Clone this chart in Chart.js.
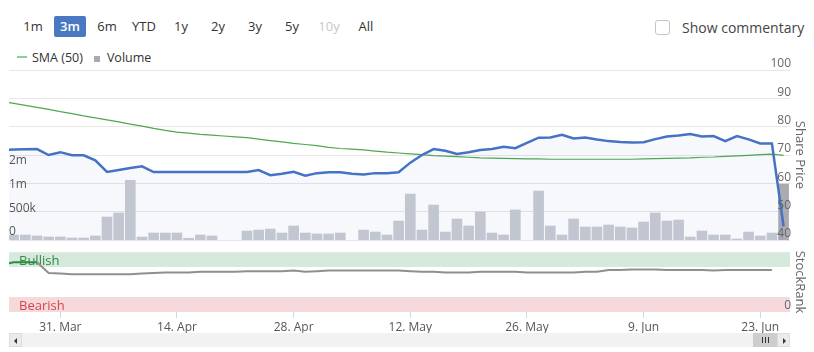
<!DOCTYPE html>
<html>
<head>
<meta charset="utf-8">
<script src="https://cdn.jsdelivr.net/npm/chart.js@4.4.1/dist/chart.umd.min.js"></script>
<style>
  body { margin: 0; background: #fff; font-family: "Open Sans", sans-serif; }
  #wrap { position: relative; width: 814px; height: 352px; overflow: hidden; }
  #ranges { position: absolute; left: 17px; top: 16px; display: flex; }
  .btn { width: 32px; height: 21px; line-height: 21px; margin-right: 5px; text-align: center;
         font-size: 13px; color: #333; border-radius: 2px; }
  .btn.sel { background: #4a78c2; color: #fff; font-weight: 600; }
  .btn.off { color: #c8c8c8; }
  #commentary { position: absolute; left: 655px; top: 19px; height: 17px; display: flex; align-items: center; }
  #commentary .box { width: 15px; height: 15px; border: 1px solid #c4c4c4; border-radius: 3px; box-sizing: border-box; }
  #commentary span { margin-left: 12px; font-size: 14px; color: #444; }
  #legend { position: absolute; left: 17px; top: 48px; height: 18px; display: flex; align-items: center; font-size: 12.5px; color: #333; }
  .lg-line { width: 10px; height: 1.5px; background: #8fce8f; margin-right: 5px; }
  .lg-box { width: 6px; height: 6px; background: #a9abb1; margin: 3px 7px 0 11px; }
  canvas { position: absolute; left: 0; }
  #main { top: 50px; }
  #rank { top: 232px; }
  #scroll { position: absolute; left: 9px; top: 333px; width: 781px; height: 14px; background: #f2f2f2; }
  .sbtn { position: absolute; top: 0; width: 13px; height: 14px; background: #ebebeb; border: 1px solid #dcdcdc; box-sizing: border-box; }
  .tri { position: absolute; top: 4px; width: 0; height: 0; border-top: 3px solid transparent; border-bottom: 3px solid transparent; }
  #handle { position: absolute; left: 744px; top: 0; width: 24px; height: 14px; background: #cdcdcd; }
  .grip { position: absolute; top: 4px; width: 1px; height: 6px; background: #333; }
</style>
</head>
<body>
<div id="wrap">
  <div id="ranges"></div>
  <div id="commentary"><div class="box"></div><span>Show commentary</span></div>
  <div id="legend"><div class="lg-line"></div><span>SMA (50)</span><div class="lg-box"></div><span>Volume</span></div>
  <canvas id="main" width="814" height="210"></canvas>
  <canvas id="rank" width="814" height="102"></canvas>
  <div id="scroll">
    <div class="sbtn" style="left:0"><div class="tri" style="left:4px;border-right:3px solid #333"></div></div>
    <div id="handle">
      <div class="grip" style="left:9px"></div><div class="grip" style="left:12px"></div><div class="grip" style="left:15px"></div>
    </div>
    <div class="sbtn" style="left:768px"><div class="tri" style="left:5px;border-left:3px solid #333"></div></div>
  </div>
</div>
<script>
// range selector
const rangeLabels = ['1m', '3m', '6m', 'YTD', '1y', '2y', '3y', '5y', '10y', 'All'];
const rangeSelected = '3m';
const rangeDisabled = ['10y'];

// x axis: trading day index, 0 = 24 Mar
const tickIdx = [5, 15, 25, 35, 45, 55, 65];
const tickLabels = ['31. Mar', '14. Apr', '28. Apr', '12. May', '26. May', '9. Jun', '23. Jun'];
const xMin = 0.6;
const xMax = 67.55;

// share price (close)
const price = [
  71.8, 71.9, 72.0, 72.1, 70.0, 71.0, 69.9, 69.9, 68.1, 64.0,
  64.7, 65.4, 66.0, 64.0, 64.0, 64.0, 64.0, 64.0, 64.0, 64.0,
  64.0, 64.0, 64.7, 62.9, 63.4, 64.1, 62.7, 63.6, 63.9, 63.9,
  63.4, 63.1, 63.6, 63.6, 63.9, 67.3, 70.0, 72.1, 71.5, 70.4,
  71.0, 71.8, 72.1, 72.9, 72.4, 74.3, 76.1, 76.2, 77.1, 75.8,
  76.2, 75.5, 74.9, 74.6, 74.4, 74.5, 75.6, 76.5, 76.9, 77.4,
  76.5, 76.7, 74.9, 76.7, 75.5, 74.1, 74.1, 44.8
];

// 50 day simple moving average
const sma = [
  88.9, 88.2, 87.5, 86.8, 86.1, 85.3, 84.6, 83.8, 83.1, 82.4,
  81.7, 80.9, 80.2, 79.4, 78.7, 78.1, 77.7, 77.3, 77.0, 76.7,
  76.4, 76.1, 75.6, 75.1, 74.6, 74.1, 73.7, 73.3, 72.7, 72.3,
  72.1, 71.8, 71.4, 71.0, 70.7, 70.4, 70.1, 69.8, 69.6, 69.4,
  69.2, 69.0, 68.9, 68.8, 68.7, 68.6, 68.6, 68.5, 68.5, 68.5,
  68.5, 68.5, 68.5, 68.5, 68.5, 68.6, 68.7, 68.8, 68.9, 69.0,
  69.2, 69.3, 69.5, 69.7, 69.9, 70.1, 70.3, 69.9
];

// volume, thousands of shares (null = market holiday)
const volume = [
  90, 105, 105, 84, 63, 63, 42, 42, 84, 481,
  565, 1250, 63, 146, 146, 146, 36, 105, 84, null,
  null, 188, 209, 230, 146, 293, 146, 126, 126, 146,
  null, 209, 167, 105, 397, 962, 209, 732, 167, 439,
  293, 586, 146, 105, 628, null, 1025, 293, 105, 439,
  272, 272, 314, 272, 251, 377, 565, 397, 418, 63,
  188, 105, 105, 21, 167, 84, 146, 1170
];
const volTicks = [0, 500000, 1000000, 1500000];

// StockRank
const stockRank = [
  79, 83, 83, 83, 65, 64, 63, 63, 63, 63,
  63, 63, 64, 65, 66, 66, 66, 67, 67, 67,
  67, 68, 68, 68, 68, 69, 67, 68, 69, 69,
  69, 69, 69, 69, 69, 68, 67, 67, 66, 66,
  66, 67, 67, 67, 67, 66, 66, 66, 66, 66,
  67, 67, 70, 70, 71, 71, 71, 70, 70, 70,
  70, 69, 70, 70, 70, 70, 70
];

const rankBands = [
  { from: 75, to: 100, label: 'Bullish', fill: '#d5e9dc', text: '#2e8a45' },
  { from: 0, to: 25, label: 'Bearish', fill: '#f5d9db', text: '#d9434e' }
];
const bullishLevel = 75;

// buttons
const ranges = document.getElementById('ranges');
rangeLabels.forEach(r => {
  const b = document.createElement('div');
  b.className = 'btn' + (r === rangeSelected ? ' sel' : '') + (rangeDisabled.includes(r) ? ' off' : '');
  b.textContent = r;
  ranges.appendChild(b);
});

Chart.defaults.font.family = '"Open Sans", sans-serif';
Chart.defaults.font.size = 12;

const toPoints = arr => arr.map((v, i) => ({ x: i, y: v }));

// highcharts-like rounding: 1.5m shows as 2m
function volLabel(v) {
  if (v === 0) return '0';
  if (v < 1e6) return Math.round(v / 1000) + 'k';
  return Math.round(v / 1e6) + 'm';
}

new Chart(document.getElementById('main'), {
  type: 'bar',
  data: {
    datasets: [
      {
        type: 'line',
        label: 'Share Price',
        data: toPoints(price),
        yAxisID: 'price',
        borderColor: '#4572c4',
        borderWidth: 2.5,
        pointRadius: 0,
        tension: 0,
        fill: 'start',
        backgroundColor: 'rgba(69, 114, 196, 0.05)',
        order: 0
      },
      {
        type: 'line',
        label: 'SMA (50)',
        data: toPoints(sma),
        yAxisID: 'price',
        borderColor: '#4fa84f',
        borderWidth: 1.2,
        pointRadius: 0,
        tension: 0,
        fill: false,
        order: 1
      },
      {
        type: 'bar',
        label: 'Volume',
        data: volume.map((v, i) => ({ x: i, y: v === null ? null : v * 1000 })),
        yAxisID: 'vol',
        backgroundColor: volume.map((v, i) => i === volume.length - 1 ? '#a9abb1' : '#c9cbd1'),
        barThickness: 10,
        order: 2
      }
    ]
  },
  options: {
    responsive: false,
    animation: false,
    events: [],
    layout: { padding: { top: 20, bottom: 20, left: 0, right: 0 } },
    plugins: { legend: { display: false }, tooltip: { enabled: false } },
    scales: {
      x: { type: 'linear', min: xMin, max: xMax, offset: false, display: false },
      price: {
        position: 'right',
        min: 40,
        max: 100,
        ticks: { stepSize: 10, mirror: true, padding: 1, labelOffset: -6, color: '#666', z: 1 },
        grid: { color: '#e6e6e6', drawTicks: false },
        border: { display: false },
        title: { display: true, text: 'Share Price', color: '#666', font: { size: 13 }, padding: { top: 6, bottom: 0 } },
        afterFit: s => { s.width = 24; }
      },
      vol: {
        position: 'left',
        min: 0,
        max: 3556000,
        afterBuildTicks: s => { s.ticks = volTicks.map(v => ({ value: v })); },
        ticks: { mirror: true, padding: 0, labelOffset: -8, color: '#555', callback: volLabel, z: 1 },
        grid: { display: false },
        border: { display: false },
        afterFit: s => { s.width = 9; }
      }
    }
  }
});

// green/red bands behind the StockRank line
const bandPlugin = {
  id: 'rankBands',
  beforeDraw(chart) {
    const { ctx, chartArea, scales } = chart;
    const y = scales.rank;
    ctx.save();
    rankBands.forEach(b => {
      const top = y.getPixelForValue(b.to);
      const bottom = y.getPixelForValue(b.from);
      ctx.fillStyle = b.fill;
      ctx.fillRect(chartArea.left, top, chartArea.width, bottom - top);
      ctx.fillStyle = b.text;
      ctx.font = '13px "Open Sans", sans-serif';
      ctx.textBaseline = 'middle';
      ctx.fillText(b.label, chartArea.left + 10, (top + bottom) / 2 + 2);
    });
    ctx.restore();
  }
};

new Chart(document.getElementById('rank'), {
  type: 'line',
  data: {
    datasets: [{
      label: 'StockRank',
      data: toPoints(stockRank),
      yAxisID: 'rank',
      borderColor: '#8f8f8f',
      borderWidth: 2,
      pointRadius: 0,
      tension: 0,
      segment: {
        borderColor: c => (c.p0.parsed.y >= bullishLevel && c.p1.parsed.y >= bullishLevel) ? '#2e8a45' : '#8f8f8f'
      }
    }]
  },
  options: {
    responsive: false,
    animation: false,
    events: [],
    layout: { padding: { top: 20, bottom: 0, left: 9, right: 0 } },
    plugins: { legend: { display: false }, tooltip: { enabled: false } },
    scales: {
      x: {
        type: 'linear',
        min: xMin,
        max: xMax,
        offset: false,
        afterBuildTicks: s => { s.ticks = tickIdx.map(v => ({ value: v })); },
        ticks: {
          autoSkip: false,
          maxRotation: 0,
          padding: 2,
          color: '#555',
          callback: v => tickLabels[tickIdx.indexOf(v)]
        },
        grid: { drawOnChartArea: false, tickLength: 6, color: '#ccd6eb' },
        border: { display: false },
        afterFit: s => { s.height = 22; }
      },
      rank: {
        position: 'right',
        min: 0,
        max: 100,
        afterBuildTicks: s => { s.ticks = [{ value: 0 }, { value: 100 }]; },
        ticks: { mirror: true, padding: 1, labelOffset: -6, color: '#666', callback: v => v === 0 ? '0' : '' },
        grid: { color: c => c.tick && c.tick.value === 100 ? '#e6e6e6' : 'rgba(0,0,0,0)', drawTicks: false },
        border: { display: false },
        title: { display: true, text: 'StockRank', color: '#666', font: { size: 13 }, padding: { top: 6, bottom: 0 } },
        afterFit: s => { s.width = 24; }
      }
    }
  },
  plugins: [bandPlugin]
});
</script>
</body>
</html>
